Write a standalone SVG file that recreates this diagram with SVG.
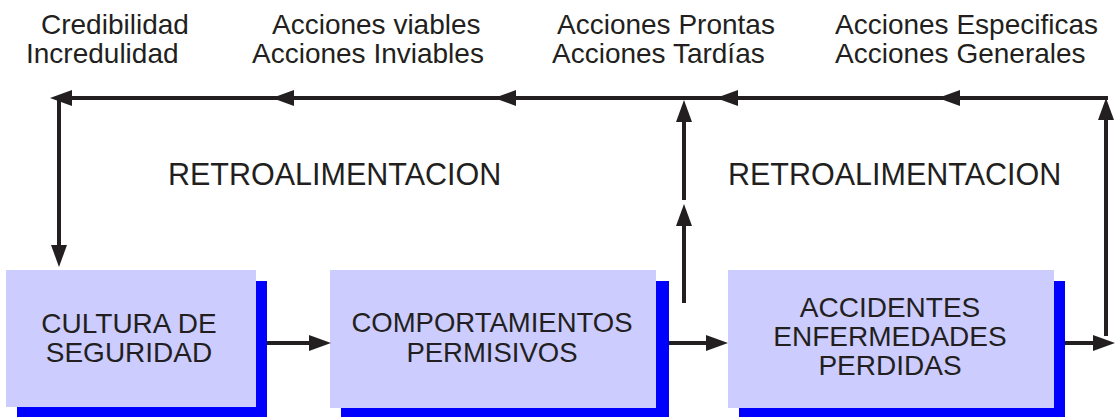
<svg xmlns="http://www.w3.org/2000/svg" width="1115" height="417" viewBox="0 0 1115 417">
<style>
text{font-family:"Liberation Sans",Arial,sans-serif;fill:#231f20}
.lbl{font-size:28px}
.fb{font-size:30.5px}
.bx{font-size:28px;text-anchor:middle}
.bx2{font-size:27.5px;text-anchor:middle}
.face{fill:#ccccff}
.shadow{fill:#0000ff}
.ln{stroke:#231f20;stroke-width:4;fill:none;marker-end:url(#ah)}
.pl{stroke:#231f20;stroke-width:4;fill:none}
</style>
<defs>
<marker id="ah" viewBox="0 0 22 16" refX="10" refY="8" markerWidth="22" markerHeight="16" markerUnits="userSpaceOnUse" orient="auto">
<path d="M0,0 L22,8 L0,16 z" fill="#231f20"/>
</marker>
</defs>
<rect width="1115" height="417" fill="#ffffff"/>
<g id="labels">
<text class="lbl" x="41" y="34">Credibilidad</text>
<text class="lbl" x="26" y="63">Incredulidad</text>
<text class="lbl" x="272" y="34">Acciones viables</text>
<text class="lbl" x="252" y="63">Acciones Inviables</text>
<text class="lbl" x="557" y="34">Acciones Prontas</text>
<text class="lbl" x="552" y="63">Acciones Tardías</text>
<text class="lbl" x="835" y="34">Acciones Especificas</text>
<text class="lbl" x="835" y="63">Acciones Generales</text>
<text class="fb" x="168" y="185">RETROALIMENTACION</text>
<text class="fb" x="728" y="185">RETROALIMENTACION</text>
</g>
<g id="cultura">
<rect class="shadow" x="17" y="281" width="250" height="137"/>
<rect class="face" x="6" y="270" width="250" height="137"/>
<text class="bx" x="129" y="333">CULTURA DE</text>
<text class="bx" x="129" y="362">SEGURIDAD</text>
</g>
<g id="comportamientos">
<rect class="shadow" x="341" y="281" width="328" height="137"/>
<rect class="face" x="330" y="270" width="326" height="138"/>
<text class="bx2" x="492" y="332">COMPORTAMIENTOS</text>
<text class="bx2" x="492" y="362">PERMISIVOS</text>
</g>
<g id="accidentes">
<rect class="shadow" x="739" y="281" width="326" height="137"/>
<rect class="face" x="728" y="270" width="326" height="138"/>
<text class="bx" x="890" y="317">ACCIDENTES</text>
<text class="bx" x="890" y="346">ENFERMEDADES</text>
<text class="bx" x="890" y="375">PERDIDAS</text>
</g>
<g id="connectors">
<line class="ln" x1="267" y1="343" x2="319" y2="343"/>
<line class="ln" x1="669" y1="343" x2="716" y2="343"/>
<line class="ln" x1="1065" y1="343" x2="1103" y2="343"/>
<line class="ln" x1="1106" y1="336" x2="1106" y2="110"/>
<line class="ln" x1="1108" y1="98" x2="950" y2="98"/>
<line class="pl" x1="950" y1="98" x2="938" y2="98"/>
<line class="ln" x1="938" y1="98" x2="728" y2="98"/>
<line class="pl" x1="728" y1="98" x2="716" y2="98"/>
<line class="ln" x1="716" y1="98" x2="506" y2="98"/>
<line class="pl" x1="506" y1="98" x2="494" y2="98"/>
<line class="ln" x1="494" y1="98" x2="284" y2="98"/>
<line class="pl" x1="284" y1="98" x2="272" y2="98"/>
<line class="ln" x1="272" y1="98" x2="62" y2="98"/>
<line class="ln" x1="59" y1="96" x2="59" y2="255"/>
<line class="ln" x1="684" y1="303" x2="684" y2="216"/>
<line class="ln" x1="684" y1="200" x2="684" y2="112"/>
</g>
</svg>
